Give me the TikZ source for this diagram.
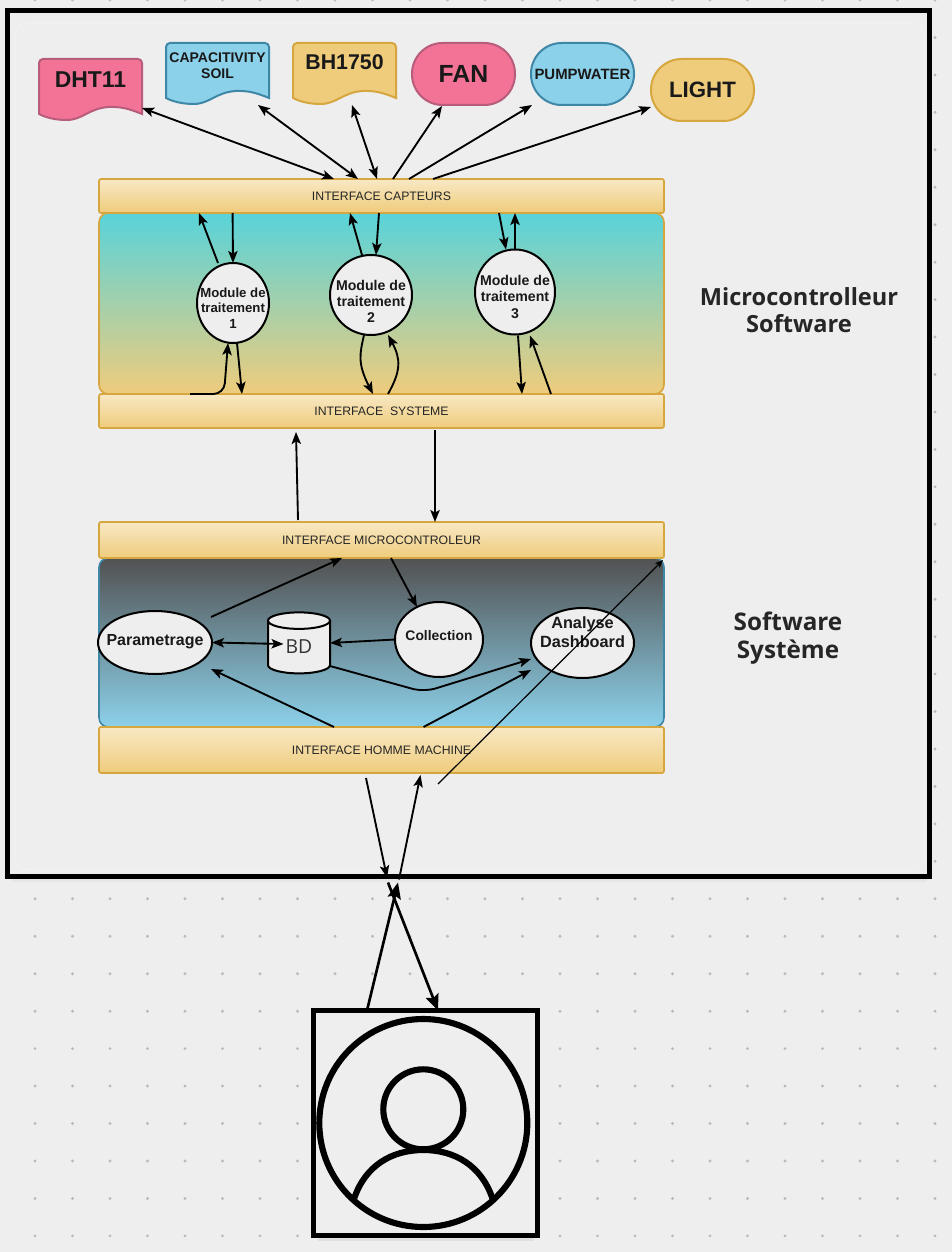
\documentclass[tikz,border=0pt]{standalone}
\usepackage{fontspec}
\setmainfont{Liberation Sans}
\newfontfamily\headf{Open Sans}
\usetikzlibrary{arrows.meta,calc,shapes.geometric}
\def\pxu{*0.75pt}
\definecolor{bgc}{HTML}{EEEEEE}
\definecolor{pinkf}{HTML}{F27396}
\definecolor{pinkd}{HTML}{B85C7C}
\definecolor{bluef}{HTML}{8CD1EA}
\definecolor{blued}{HTML}{3F87A6}
\definecolor{yelf}{HTML}{EFCC7C}
\definecolor{yeld}{HTML}{D6A63F}
\definecolor{tealf}{HTML}{58D3DA}
\newcommand{\tb}[4]{\makebox[0pt]{\raisebox{\dimexpr #1pt-0.38\dimexpr #2pt\relax\relax}[0pt][0pt]{\fontsize{#2pt}{#3pt}\selectfont\renewcommand{\arraystretch}{1}\begin{tabular}[c]{@{}c@{}}#4\end{tabular}}}}
\newcommand{\docn}[6]{%
  \path[fill=#4,draw=#5,line width=1.5pt]
    ({#2-51.5},{#3+24.5}) [rounded corners=3pt] -- ({#2-51.5},{#3-30.5}) -- ({#2+51.5},{#3-30.5}) [sharp corners] -- ({#2+51.5},{#3+24.5})
    .. controls ({#2+38},{#3+19}) and ({#2+30},{#3+17}) .. ({#2+18},{#3+17.5})
    .. controls ({#2-2},{#3+19}) and ({#2-8},{#3+30.5}) .. ({#2-24},{#3+30.5})
    .. controls ({#2-35},{#3+30.5}) and ({#2-45},{#3+28}) .. ({#2-51.5},{#3+24.5}) -- cycle;
  \node[plainbox] (#1) at (#2,#3) {#6};}
\tikzset{
  x=0.75pt,y=-0.75pt,
  plainbox/.style={rectangle,minimum width=103\pxu,minimum height=61\pxu,inner sep=0pt,outer sep=0pt,font=\bfseries,text=black!90},
  stadium/.style={rectangle,rounded corners=23pt,minimum width=103\pxu,minimum height=62\pxu,inner sep=0pt,outer sep=0pt,line width=1.5pt,font=\bfseries,text=black!90},
  ifacebar/.style={rectangle,rounded corners=1.5pt,minimum width=565\pxu,inner sep=0pt,outer sep=0pt,draw=yeld,line width=1.3pt,top color=yelf!45!white,bottom color=yelf,text=black!85},
  panelbox/.style={rectangle,rounded corners=7pt,minimum width=565\pxu,inner sep=0pt,outer sep=0pt,line width=1.2pt},
  modnode/.style={ellipse,draw=black,line width=1.5pt,fill=bgc,inner sep=0pt,outer sep=0pt,font=\bfseries,text=black!90},
  headone/.style={font=\headf\bfseries\fontsize{17.7pt}{20.3pt}\selectfont,align=center,text=black!85,inner sep=0pt},
  headtwo/.style={font=\headf\bfseries\fontsize{18.2pt}{21pt}\selectfont,align=center,text=black!85,inner sep=0pt},
  arr/.style={line width=1.4pt,-{Stealth[length=9pt,width=7pt,inset=2pt]}},
  barr/.style={line width=1.4pt,{Stealth[length=9pt,width=7pt,inset=2pt]}-{Stealth[length=9pt,width=7pt,inset=2pt]}},
  bigarr/.style={line width=2pt,-{Stealth[length=12pt,width=10pt,inset=2pt]}},
  cylnode/.style={cylinder,shape border rotate=90,aspect=0.62,draw=black,line width=1.5pt,fill=bgc,minimum width=62\pxu,minimum height=61\pxu,inner sep=0pt,outer sep=0pt},
  personline/.style={draw=black,line width=4.6pt},
}
\begin{document}
\begin{tikzpicture}
\useasboundingbox (0,0) rectangle (952,1252);
\fill[bgc] (0,0) rectangle (952,1252);
% dot grid
\foreach \i in {0,...,25}{\foreach \j in {0,...,33}{
  \fill[black!27] ({35+37.5*\i},{37.45*\j}) circle (1.2pt);}}
% main frame
\fill[black!10] (12,878) rectangle (927,882);
\path[fill=bgc,draw=black,line width=3.9pt] (7.5,10.5) rectangle (929.5,876.5);
\path[draw=black!5,line width=.8pt,rounded corners=9pt] (15,23) rectangle (924,870);

% sensors / actuators
\docn{dht}{90.5}{89.5}{pinkf}{pinkd}{\tb{7.9}{17.2}{20}{DHT11}}
\docn{cap}{217.5}{73.5}{bluef}{blued}{\tb{5.6}{10.5}{12}{CAPACITIVITY\\SOIL}}
\docn{bh}{344.5}{73.5}{yelf}{yeld}{\tb{8.6}{16}{18}{BH1750}}
\node[stadium,fill=pinkf,draw=pinkd] (fan) at (463.5,74) {\tb{0.7}{18.6}{22}{FAN}};
\node[stadium,fill=bluef,draw=blued] (pump) at (582.5,74) {\tb{0.3}{11.2}{13}{PUMPWATER}};
\node[stadium,fill=yelf,draw=yeld] (light) at (702.5,90) {\tb{0.3}{16.7}{20}{LIGHT}};

% panels and interfaces
\node[panelbox,draw=yeld,top color=tealf,bottom color=yelf,minimum height=181\pxu] (p1) at (381.5,303.5) {};
\node[panelbox,draw=blued,top color=black!68,bottom color=bluef,minimum height=169\pxu] (p2) at (381.5,642.5) {};
\node[ifacebar,minimum height=34\pxu] (ic) at (381.5,196) {\tb{0}{9.2}{11}{INTERFACE CAPTEURS}};
\node[ifacebar,minimum height=34\pxu] (is) at (381.5,411) {\tb{0}{9.2}{11}{INTERFACE\ \ SYSTEME}};
\node[ifacebar,minimum height=36\pxu] (im) at (381.5,540) {\tb{0}{9.2}{11}{INTERFACE MICROCONTROLEUR}};
\node[ifacebar,minimum height=46\pxu] (ih) at (381.5,750) {\tb{0}{9.2}{11}{INTERFACE HOMME MACHINE}};

% modules
\node[modnode,minimum width=72\pxu,minimum height=80\pxu] (m1) at (233,303) {\tb{-3.7}{9.9}{11.8}{Module de\\traitement\\1}};
\node[modnode,minimum width=82\pxu,minimum height=80\pxu] (m2) at (371,295) {\tb{-5}{10.6}{12.2}{Module de\\traitement\\2}};
\node[modnode,minimum width=80\pxu,minimum height=85\pxu] (m3) at (515,292) {\tb{-3.7}{10.6}{12.2}{Module de\\traitement\\3}};

% system nodes
\node[modnode,minimum width=114\pxu,minimum height=63\pxu] (par) at (155,642.5) {\tb{1.9}{12}{14}{Parametrage}};
\node[cylnode] (bd) at (299,647.5) {\raisebox{-4.3pt}[0pt][0pt]{\headf\fontsize{14.5pt}{16pt}\selectfont\color{black!80}BD}};
\node[modnode,minimum width=88\pxu,minimum height=75\pxu] (col) at (439,639.5) {\tb{3.4}{10.4}{12}{Collection}};
\node[modnode,minimum width=103\pxu,minimum height=70\pxu] (ana) at (582.5,643) {\tb{8.2}{12.2}{14.2}{Analyse\\Dashboard}};

% headings
\node[headone] (h1) at (799,310.5) {Microcontrolleur\\Software};
\node[headtwo] (h2) at (788,638) {Software\\Système};

% sensor connectors
\draw[barr] ($(dht.south east)+(0,-12)$) -- ($(ic.north west)+(235,0)$);
\draw[barr] ($(cap.south east)+(-11,1)$) -- ($(ic.north west)+(259,0)$);
\draw[barr] ($(bh.south)+(7.5,1)$) -- ($(ic.north west)+(278,0)$);
\draw[arr] ($(ic.north west)+(294,0)$) -- ($(fan.south)+(-21.5,1)$);
\draw[arr] ($(ic.north west)+(310,0)$) -- ($(pump.south west)+(1,0)$);
\draw[arr] ($(ic.north west)+(334,0)$) -- ($(light.west)+(0,17)$);

% module 1
\draw[arr] ($(m1)+(-15,-40)$) -- ($(ic.south west)+(100,0)$);
\draw[arr] ($(ic.south west)+(133.6,0)$) -- (m1.north);
\draw[arr,rounded corners=8pt] ($(is.north west)+(91,0)$) -- ($(is.north west)+(125,0)$) -- ($(m1.south)+(-5,0)$);
\draw[arr] ($(m1.south)+(4,0)$) -- ($(is.north west)+(143,0)$);
% module 2
\draw[arr] ($(m2.north)+(-9,0)$) -- ($(ic.south west)+(251,0)$);
\draw[arr] ($(ic.south west)+(280,0)$) -- ($(m2.north)+(5,0)$);
\draw[arr] ($(m2.south)+(-7,0)$) .. controls ($(m2.south)+(-11,18)$) and ($(m2.south)+(-14,28)$) .. ($(is.north west)+(274,0)$);
\draw[arr] ($(is.north west)+(289,0)$) .. controls ($(m2.south)+(30,36)$) and ($(m2.south)+(30,24)$) .. ($(m2.south)+(17,0)$);
% module 3
\draw[arr] ($(ic.south west)+(400,0)$) -- ($(m3.north)+(-9,0)$);
\draw[arr] (m3.north) -- ($(ic.south west)+(416,0)$);
\draw[arr] ($(m3.south)+(3,1)$) -- ($(is.north west)+(423,0)$);
\draw[arr] ($(is.north west)+(452,0)$) -- ($(m3.south)+(15,1)$);

% between the layers
\draw[arr] ($(im.north west)+(199,-2)$) -- ($(is.south west)+(197,4)$);
\draw[arr] ($(is.south west)+(336,2)$) -- ($(im.north west)+(336,0)$);

% system connectors
\draw[arr] ($(par.east)+(-1,-25.5)$) -- ($(im.south west)+(243,0)$);
\draw[arr] ($(im.south west)+(292,0)$) -- ($(col.north)+(-22,5)$);
\draw[arr] (col.west) -- ($(bd.east)+(0,-4.5)$);
\draw[barr] (par.east) -- ($(bd.west)+(15.5,-3.5)$);
\draw[arr,rounded corners=9pt] ($(bd.east)+(0,18.5)$) -- ($(bd.east)+(94,44.5)$) -- ($(ana.west)+(0,16)$);
\draw[arr] ($(ih.north west)+(235,0)$) -- ($(par.east)+(-1,26.5)$);
\draw[arr] ($(ih.north west)+(324.5,0)$) -- ($(ana.west)+(0,27)$);
\draw[line width=.9pt,-{Stealth[length=6pt,width=5pt,inset=1.5pt]}] ($(ih.south west)+(339,11)$) -- ($(im.south east)+(-1,2)$);

% user
\fill[black!12] (318,1238) rectangle (534,1241);
\node[rectangle,draw=black,line width=3.9pt,fill=bgc,minimum width=224\pxu,minimum height=225\pxu,inner sep=0pt,outer sep=0pt] (user) at (425.5,1123) {};
\node[circle,personline,minimum size=208\pxu,inner sep=0pt,outer sep=0pt] (face) at (423.3,1123) {};
\node[circle,personline,minimum size=80\pxu,inner sep=0pt,outer sep=0pt] (head) at (423.3,1109.3) {};
\draw[personline] ($(face)+(-69,75)$) .. controls ($(face)+(-58,43)$) and ($(face)+(-32,27)$) .. ($(face)+(0,27)$) .. controls ($(face)+(32,27)$) and ($(face)+(58,43)$) .. ($(face)+(69,75)$);

% user connectors
\draw[arr] ($(ih.south west)+(267,5)$) -- ($(user.north)+(-38.5,-133)$);
\draw[arr] ($(user.north)+(-26.5,-131)$) -- ($(ih.south west)+(321.5,2)$);
\draw[bigarr] ($(user.north)+(-58.5,0)$) -- ($(user.north)+(-27.5,-128)$);
\draw[bigarr] ($(user.north)+(-37.5,-128)$) -- ($(user.north)+(12.5,0)$);
\end{tikzpicture}
\end{document}
